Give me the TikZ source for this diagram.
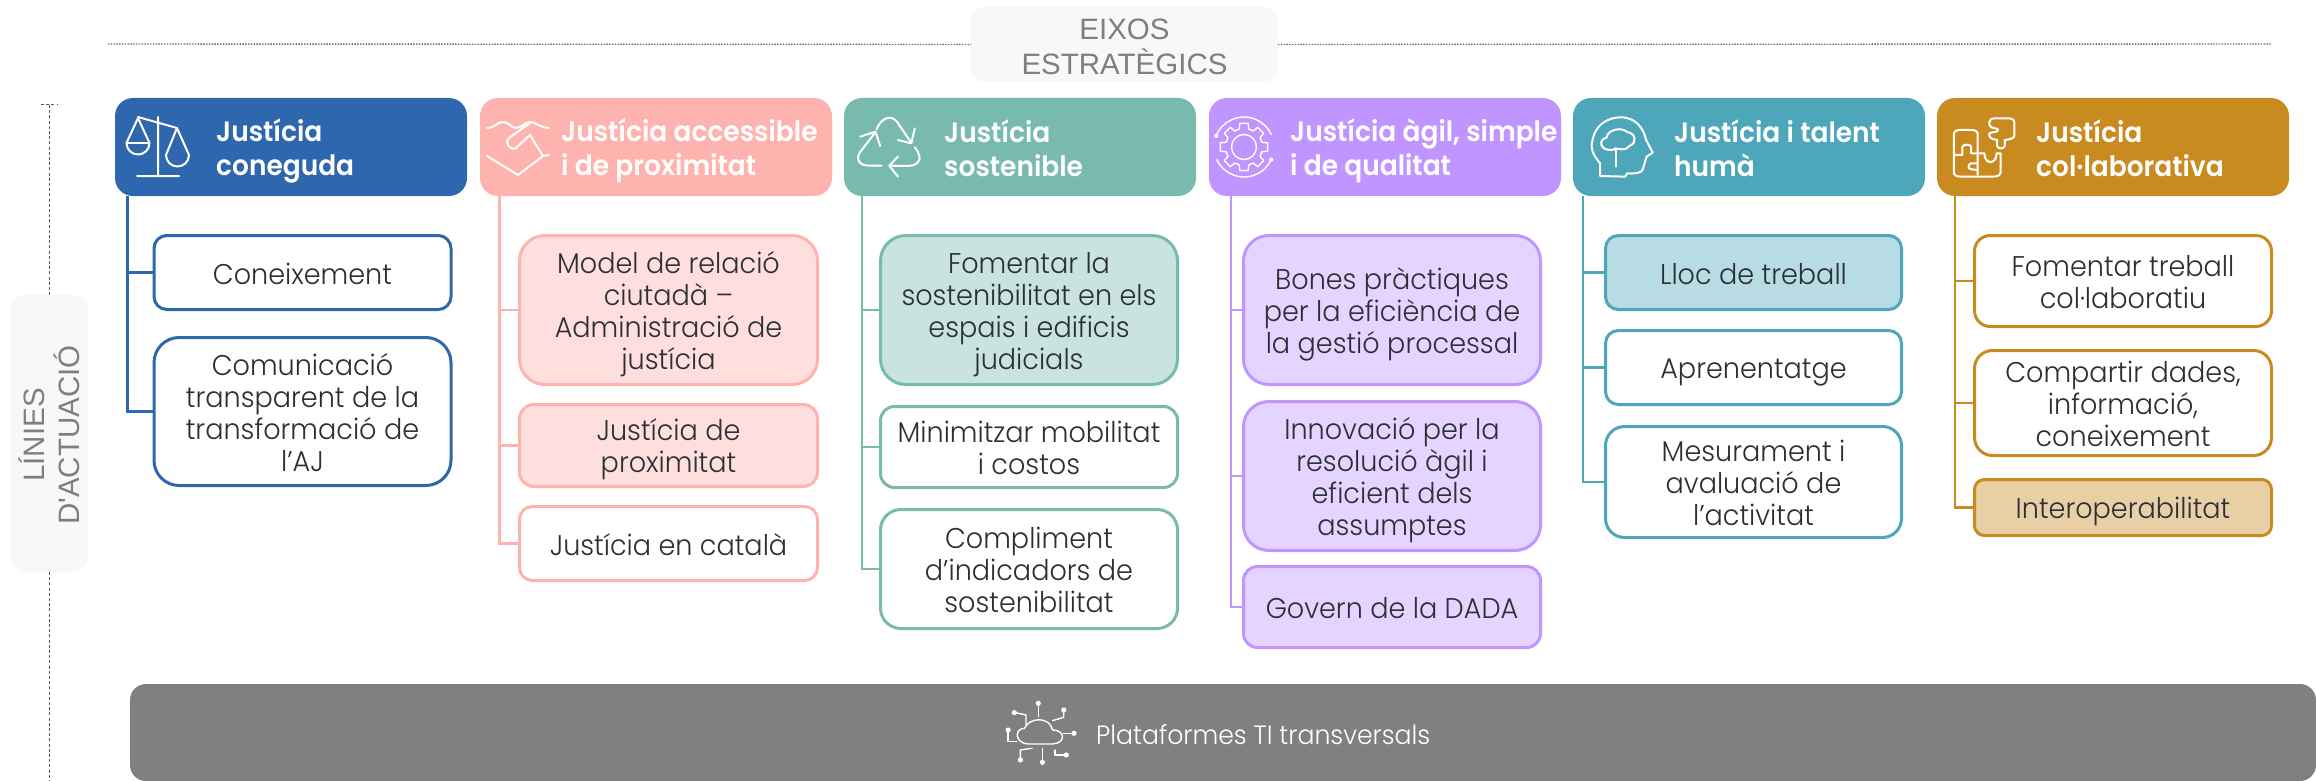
\documentclass[tikz,border=0pt]{standalone}
\usepackage{fontspec}
\setmainfont{Poppins}
\newfontfamily\lightf[FakeStretch=0.95]{Poppins Light}
\newfontfamily\headf[FakeStretch=0.945]{Poppins SemiBold}
\newfontfamily\grayf{Liberation Sans}
\definecolor{cblue}{HTML}{2E67AD}
\definecolor{cpink}{HTML}{FFB3AE}
\definecolor{fpink}{HTML}{FFDFDD}
\definecolor{cteal}{HTML}{78BBAE}
\definecolor{fteal}{HTML}{C9E3DE}
\definecolor{cpurp}{HTML}{C095FF}
\definecolor{fpurp}{HTML}{E5D4FF}
\definecolor{cturq}{HTML}{4EA6BA}
\definecolor{fturq}{HTML}{B7DCE3}
\definecolor{cgold}{HTML}{C98B20}
\definecolor{fgold}{HTML}{E9CFA5}
\definecolor{ink}{HTML}{2A3036}
\definecolor{pale}{HTML}{F8F8F8}
\definecolor{barg}{HTML}{808080}
\definecolor{labg}{HTML}{7F7F7F}
\newcommand{\lnA}{\rule{0pt}{30pt}}
\newcommand{\lnZ}{\rule[-7pt]{0pt}{7pt}}
\tikzset{
  itembox/.style={draw=#1,line width=3pt,rectangle,inner sep=0pt,outer sep=0pt,align=center,text=ink,
    font=\lightf\fontsize{28.5}{32}\selectfont},
  headbox/.style={fill=#1,rectangle,inner sep=0pt,outer sep=0pt},
  headtext/.style={anchor=west,align=left,text=white,inner sep=0pt,font=\headf\fontsize{28}{34}\selectfont},
  trunk/.style={draw=#1,line width=2.2pt},
  iconline/.style={draw=white,line width=2pt,line cap=round,line join=round},
  thinicon/.style={draw=white,line width=1.4pt,line cap=round,line join=round},
  palebox/.style={fill=pale,rectangle,inner sep=0pt,outer sep=0pt,align=center,text=labg,
    font=\grayf\fontsize{29.5}{35}\selectfont},
  dotline/.style={draw=black!60,line width=1.4pt,dash pattern=on 1.4pt off 1.4pt},
  dashline/.style={draw=black!65,line width=1pt,dash pattern=on 3pt off 2.2pt}
}
% name, x1,y1,x2,y2, style, text
\newcommand{\itemnode}[7]{%
  \pgfmathsetmacro{\myw}{#4-#2-3}\pgfmathsetmacro{\myh}{#5-#3-3}%
  \pgfmathsetmacro{\myr}{0.1667*(#5-#3)}%
  \pgfmathsetmacro{\mycx}{(#2+#4)/2}\pgfmathsetmacro{\mycy}{(#3+#5)/2}%
  \node[#6,rounded corners=\myr pt,minimum width=\myw pt,minimum height=\myh pt] (#1) at (\mycx,\mycy) {\lnA#7\lnZ};}
\newcommand{\headnode}[4]{%
  \pgfmathsetmacro{\mycx}{(#2+#3)/2}%
  \node[headbox=#4,rounded corners=18pt,minimum width=352pt,minimum height=98pt] (#1) at (\mycx,147) {};}
\begin{document}
\begin{tikzpicture}[x=1pt,y=-1pt]
\useasboundingbox (0,0) rectangle (2316,781);

% pale labels and guide lines
\node[palebox,rounded corners=14pt,minimum width=307pt,minimum height=75pt] (eix) at (1124.5,44.5) {\rule{0pt}{25pt}EIXOS\\ESTRATÈGICS};
\coordinate (dl) at (108,44); \coordinate (dr) at (2271,44);
\draw[dotline] (dl) -- (eix.west);
\draw[dotline] (eix.east) -- (dr);
\node[palebox,rounded corners=14pt,minimum width=77pt,minimum height=277pt] (lin) at (49.5,433.5) {};
\node[rotate=90,align=center,text=labg,inner sep=0pt,font=\grayf\fontsize{29.5}{35}\selectfont] (lintxt) at (49,435) {LÍNIES\\D'ACTUACIÓ};
\coordinate (vt) at (49.5,105); \coordinate (vb) at (49.5,781);
\coordinate (tl) at (41,105); \coordinate (tr) at (58,105);
\draw[dashline] (tl) -- (tr);
\draw[dashline] (vt) -- (lin.north -| vt);
\draw[dashline] (lin.south -| vb) -- (vb);

% headers
\headnode{h1}{115}{467}{cblue}
\headnode{h2}{480}{832}{cpink}
\headnode{h3}{844}{1196}{cteal}
\headnode{h4}{1209}{1561}{cpurp}
\headnode{h5}{1573}{1925}{cturq}
\headnode{h6}{1937}{2289}{cgold}
\node[headtext] (t1) at (216,147.5) {\lnA Justícia\\coneguda\lnZ};
\node[headtext] (t2) at (561,147.5) {\lnA Justícia accessible\\i de proximitat\lnZ};
\node[headtext] (t3) at (944,147.5) {\lnA Justícia\\sostenible\lnZ};
\node[headtext] (t4) at (1290,147.5) {\lnA Justícia àgil, simple\\i de qualitat\lnZ};
\node[headtext] (t5) at (1674,147.5) {\lnA Justícia i talent\\humà\lnZ};
\node[headtext] (t6) at (2036,147.5) {\lnA Justícia\\col·laborativa\lnZ};

% items
\itemnode{a1}{152.5}{234}{452.5}{311}{itembox=cblue,fill=white}{Coneixement}
\itemnode{a2}{152.5}{336}{452.5}{487}{itembox=cblue,fill=white}{Comunicació\\transparent de la\\transformació de\\l’AJ}
\itemnode{b1}{518}{234}{819}{386}{itembox=cpink,fill=fpink}{Model de relació\\ciutadà –\\Administració de\\justícia}
\itemnode{b2}{518}{403}{819}{488}{itembox=cpink,fill=fpink}{Justícia de\\proximitat}
\itemnode{b3}{518}{505}{819}{582}{itembox=cpink,fill=white}{Justícia en català}
\itemnode{c1}{879}{234}{1179}{386}{itembox=cteal,fill=fteal}{Fomentar la\\sostenibilitat en els\\espais i edificis\\judicials}
\itemnode{c2}{879}{405}{1179}{489}{itembox=cteal,fill=white}{Minimitzar mobilitat\\i costos}
\itemnode{c3}{879}{508}{1179}{630}{itembox=cteal,fill=white}{Compliment\\d’indicadors de\\sostenibilitat}
\itemnode{d1}{1242}{234}{1542}{386}{itembox=cpurp,fill=fpurp}{Bones pràctiques\\per la eficiència de\\la gestió processal}
\itemnode{d2}{1242}{400}{1542}{552}{itembox=cpurp,fill=fpurp}{Innovació per la\\resolució àgil i\\eficient dels\\assumptes}
\itemnode{d3}{1242}{565}{1542}{649}{itembox=cpurp,fill=fpurp}{Govern de la DADA}
\itemnode{e1}{1604}{234}{1903}{311}{itembox=cturq,fill=fturq}{Lloc de treball}
\itemnode{e2}{1604}{329}{1903}{406}{itembox=cturq,fill=white}{Aprenentatge}
\itemnode{e3}{1604}{425}{1903}{539}{itembox=cturq,fill=white}{Mesurament i\\avaluació de\\l’activitat}
\itemnode{f1}{1973}{234}{2273}{328}{itembox=cgold,fill=white}{Fomentar treball\\col·laboratiu}
\itemnode{f2}{1973}{349}{2273}{457}{itembox=cgold,fill=white}{Compartir dades,\\informació,\\coneixement}
\itemnode{f3}{1973}{478}{2273}{537}{itembox=cgold,fill=fgold}{Interoperabilitat}

% trunks
\coordinate (ra) at (127.5,196); \coordinate (rb) at (499.5,196); \coordinate (rc) at (862,196);
\coordinate (rd) at (1231,196); \coordinate (re) at (1583,196); \coordinate (rf) at (1955,196);
\draw[trunk=cblue] (ra) |- (a1.west); \draw[trunk=cblue] (ra) |- (a2.west);
\draw[trunk=cpink] (rb) |- (b1.west); \draw[trunk=cpink] (rb) |- (b2.west); \draw[trunk=cpink] (rb) |- (b3.west);
\draw[trunk=cteal] (rc) |- (c1.west); \draw[trunk=cteal] (rc) |- (c2.west); \draw[trunk=cteal] (rc) |- (c3.west);
\draw[trunk=cpurp] (rd) |- (d1.west); \draw[trunk=cpurp] (rd) |- (d2.west); \draw[trunk=cpurp] (rd) |- (d3.west);
\draw[trunk=cturq] (re) |- (e1.west); \draw[trunk=cturq] (re) |- (e2.west); \draw[trunk=cturq] (re) |- (e3.west);
\draw[trunk=cgold] (rf) |- (f1.west); \draw[trunk=cgold] (rf) |- (f2.west); \draw[trunk=cgold] (rf) |- (f3.west);

% bar
\node[fill=barg,rectangle,rounded corners=16pt,inner sep=0pt,outer sep=0pt,minimum width=2186pt,minimum height=97pt] (bar) at (1223,732.5) {};
\node[anchor=west,text=white,inner sep=0pt,font=\lightf\fontsize{26.5}{30}\selectfont] (plat) at (1096,735) {Plataformes TI transversals};

% scales icon
\draw[iconline] (158,117) -- (158,176) (137,176) -- (179,176) (138,117) -- (177,128);
\draw[iconline] (149.5,143) -- (138,118) -- (126.5,143) arc[start angle=180,end angle=360,x radius=11.5,y radius=-11.5] -- cycle;
\draw[iconline] (126.5,143) -- (149.5,143);
\draw[iconline] (189,155) -- (177,128) -- (166,155) arc[start angle=180,end angle=360,x radius=11.5,y radius=-11.5] -- cycle;

% handshake icon
\draw[iconline] (487,128) .. controls (495,128) and (497,122) .. (503,122) .. controls (509,122) and (511,128) .. (516,128) .. controls (522,128) and (524,122) .. (530,122) .. controls (536,122) and (540,128) .. (549,128);
\draw[iconline] (487,156) -- (518,175) -- (543,156) -- (549,155);
\draw[iconline] (530,123) -- (509,138) .. controls (504,143) and (510,151) .. (516,148) -- (530,135) -- (543,156);

% recycle icon
\begin{scope}[shift={(800,0)},x=0.5102pt,y=-0.3333pt]
\draw[iconline] (150,388) .. controls (160,350) and (180,345) .. (190,365) -- (218,428);
\draw[iconline] (225,385) -- (218,430) -- (192,420);
\draw[iconline] (225,442) .. controls (245,480) and (230,498) .. (210,498) -- (175,497);
\draw[iconline] (192,470) -- (175,497) -- (192,530);
\draw[iconline] (160,497) -- (135,497) .. controls (112,497) and (108,470) .. (122,448) -- (147,398);
\draw[iconline] (118,410) -- (148,395) -- (157,438);
\end{scope}

% gear icon
\begin{scope}[shift={(1244,147)},x=1pt,y=1pt]
\draw[thinicon] (0,0) circle (12.5);
\foreach \a in {0,45,...,315}{
  \draw[thinicon] (\a-15:18.5) -- (\a-10:24) -- (\a+10:24) -- (\a+15:18.5) -- (\a+30:18.5);
}
\draw[thinicon] (158:30) arc[start angle=158,end angle=25,radius=30];
\draw[thinicon] (205:30) arc[start angle=205,end angle=335,radius=30];
\fill[white] (158:30) circle (2.2) (335:30) circle (2.2);
\end{scope}

% head icon
\begin{scope}[shift={(1516,0)},x=0.5102pt,y=-0.3333pt]
\draw[iconline] (165,528) -- (165,490) .. controls (150,465) and (145,440) .. (150,420) .. controls (155,375) and (180,352) .. (205,352) .. controls (235,352) and (250,385) .. (255,420) -- (268,458) -- (256,470) -- (248,510) .. controls (245,520) and (230,522) .. (218,520) -- (214,530) -- cycle;
\draw[iconline] (195,500) -- (195,448);
\draw[iconline] (185,450) .. controls (165,450) and (160,420) .. (178,412) .. controls (178,392) and (205,378) .. (218,396) .. controls (235,400) and (238,430) .. (222,438) .. controls (218,450) and (205,450) .. (195,445) .. controls (192,450) and (188,450) .. (185,450);
\end{scope}

% puzzle icon
\begin{scope}[shift={(1516,0)},x=0.5102pt,y=-0.3333pt]
\draw[iconline] (940,355) -- (965,355) .. controls (975,355) and (977,362) .. (977,372) -- (977,405) .. controls (977,415) and (970,418) .. (958,420) -- (958,438) .. controls (955,448) and (945,448) .. (943,438) -- (943,420) .. controls (930,418) and (926,410) .. (928,400) .. controls (932,395) and (945,398) .. (945,390) .. controls (945,382) and (930,388) .. (928,375) -- (928,365) .. controls (928,358) and (933,355) .. (940,355) -- cycle;
\draw[iconline] (870,390) -- (893,390) .. controls (902,390) and (905,395) .. (905,405) -- (905,525);
\draw[iconline] (870,390) .. controls (862,390) and (858,395) .. (858,405) -- (858,515) .. controls (858,525) and (862,530) .. (872,530) -- (935,530) .. controls (945,530) and (950,525) .. (950,515) -- (950,460) -- (942,460) .. controls (942,495) and (918,495) .. (918,460) -- (892,460) -- (892,440) .. controls (890,432) and (878,432) .. (875,440) -- (875,465) -- (858,465);
\draw[iconline] (905,490) -- (892,490) .. controls (885,495) and (885,505) .. (892,508) -- (905,510);
\end{scope}

% cloud network icon
\begin{scope}[shift={(800,400)},x=0.5102pt,y=-0.3333pt]
\draw[thinicon] (448,1032) -- (495,1032) .. controls (522,1030) and (520,990) .. (495,990) .. controls (490,950) and (450,950) .. (440,985) .. controls (420,985) and (420,1030) .. (448,1032) -- cycle;
\draw[thinicon] (467,950) -- (467,912);
\draw[thinicon] (443,975) -- (443,945) -- (422,938);
\draw[thinicon] (495,962) -- (517,952) -- (517,932);
\draw[thinicon] (516,1000) -- (535,1000);
\draw[thinicon] (425,1025) -- (408,1025) -- (408,992);
\draw[thinicon] (455,1045) -- (432,1050) -- (432,1078);
\draw[thinicon] (475,1045) -- (475,1085);
\draw[thinicon] (500,1050) -- (500,1065) -- (520,1065);
\fill[white] (467,910) circle (2.6pt) (420,938) circle (2.6pt) (517,930) circle (2.6pt) (537,1000) circle (2.6pt) (408,990) circle (2.6pt) (432,1080) circle (2.6pt) (475,1087) circle (2.6pt) (522,1065) circle (2.6pt);
\end{scope}
\end{tikzpicture}
\end{document}
